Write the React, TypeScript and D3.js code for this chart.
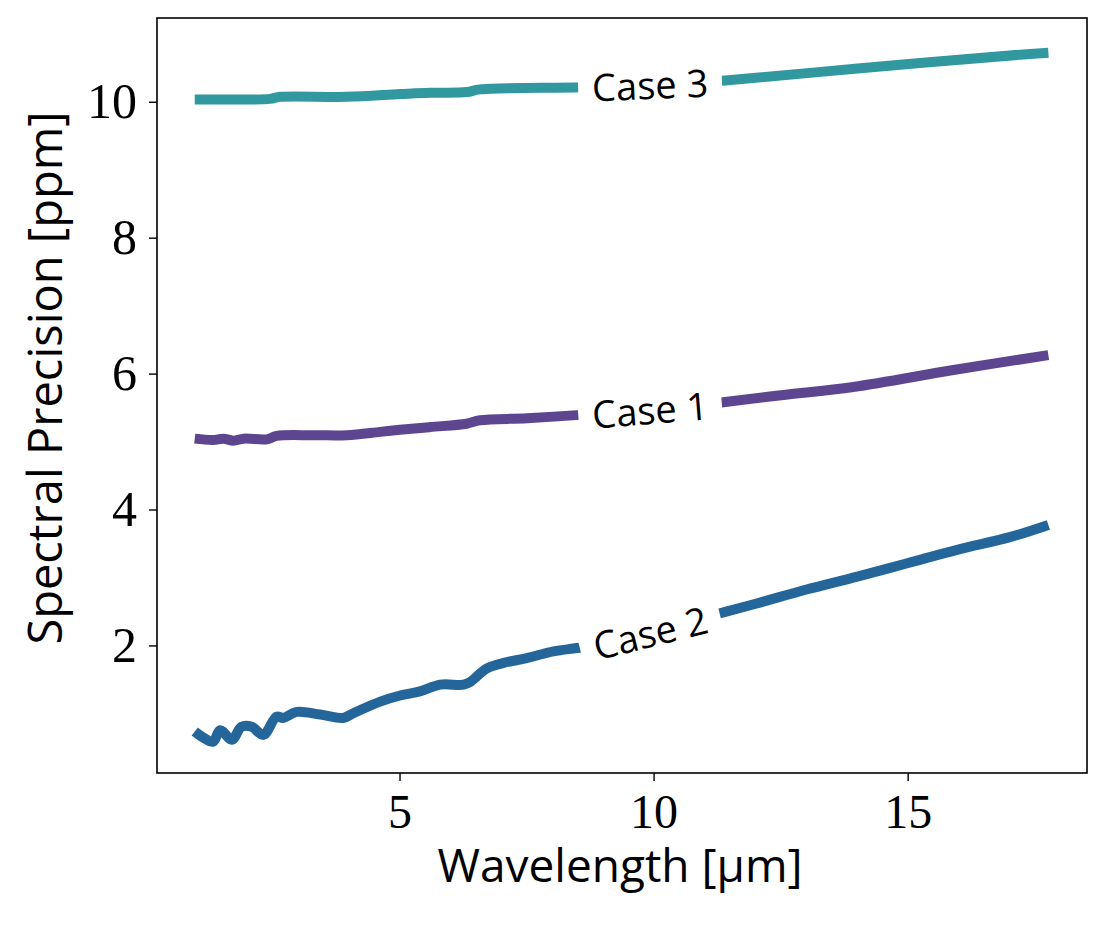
import React from "react";
import * as d3 from "d3";

const wl2 = [0.96, 1.13, 1.32, 1.46, 1.69, 1.88, 2.08, 2.31, 2.57, 2.7, 2.97, 3.43, 3.88, 4.08, 4.61, 5.0, 5.39, 5.79, 6.25, 6.38, 6.71, 7.04, 7.49, 8.02, 8.58, 9, 10, 11, 11.4, 12, 13, 14, 15, 16, 17, 17.76];
const case2 = [0.74, 0.65, 0.59, 0.76, 0.62, 0.81, 0.81, 0.69, 0.96, 0.94, 1.03, 0.99, 0.94, 1.01, 1.18, 1.27, 1.33, 1.43, 1.43, 1.47, 1.67, 1.75, 1.82, 1.92, 1.98, 2.05, 2.22, 2.42, 2.5, 2.62, 2.83, 3.02, 3.22, 3.42, 3.6, 3.78];

const wl1 = [0.96, 1.32, 1.52, 1.72, 1.92, 2.38, 2.57, 3.29, 3.95, 4.61, 5.0, 5.59, 6.31, 6.57, 7.5, 8.54, 9, 10, 11, 11.4, 12.5, 13.92, 15.89, 17.76];
const case1 = [5.05, 5.03, 5.05, 5.02, 5.05, 5.04, 5.09, 5.1, 5.1, 5.15, 5.18, 5.22, 5.27, 5.32, 5.35, 5.4, 5.43, 5.49, 5.55, 5.59, 5.69, 5.81, 6.06, 6.28];

const wl3 = [0.96, 1.65, 2.44, 2.64, 3.95, 5.0, 5.59, 6.31, 6.57, 8.54, 9, 10, 11, 11.4, 14.06, 17.2, 17.76];
const case3 = [10.04, 10.04, 10.05, 10.08, 10.08, 10.12, 10.14, 10.15, 10.19, 10.22, 10.24, 10.27, 10.3, 10.32, 10.5, 10.7, 10.73];

const xTicks = [5, 10, 15];
const yTicks = [2, 4, 6, 8, 10];

const series = [
  { name: "Case 3", wl: wl3, vals: case3, color: "#3198a0", labelX: 9.92 },
  { name: "Case 1", wl: wl1, vals: case1, color: "#5d4590", labelX: 9.92 },
  { name: "Case 2", wl: wl2, vals: case2, color: "#25669a", labelX: 9.92 },
];

export default function App() {
  const L = 157, R = 1087, T = 18, B = 773;
  const x = d3.scaleLinear().domain([0.217, 18.52]).range([L, R]);
  const y = d3.scaleLinear().domain([0.13, 11.24]).range([B, T]);

  const line = d3
    .line<[number, number]>()
    .x((d) => x(d[0]))
    .y((d) => y(d[1]))
    .curve(d3.curveCatmullRom.alpha(0.5));

  const serif = "'Liberation Serif', 'DejaVu Serif', serif";
  const sans = "'Open Sans', 'Noto Sans', sans-serif";

  return (
    <svg
      width={1106}
      height={930}
      style={{ position: "absolute", left: 0, top: 0, background: "#fff" }}
    >
      <rect x={0} y={0} width={1106} height={930} fill="#fff" />
      {series.map((s) => {
        const pts: [number, number][] = s.wl.map((w, i) => [w, s.vals[i]]);
        const interp = (xv: number) => {
          for (let i = 0; i < s.wl.length - 1; i++) {
            if (xv >= s.wl[i] && xv <= s.wl[i + 1]) {
              const t = (xv - s.wl[i]) / (s.wl[i + 1] - s.wl[i]);
              return s.vals[i] + t * (s.vals[i + 1] - s.vals[i]);
            }
          }
          return s.vals[s.vals.length - 1];
        };
        const cx = x(s.labelX);
        const cy = y(interp(s.labelX));
        const dx = x(11) - x(9);
        const dy = y(interp(11)) - y(interp(9));
        const ang = (Math.atan2(dy, dx) * 180) / Math.PI;
        return (
          <g key={s.name}>
            <path
              d={line(pts) || ""}
              fill="none"
              stroke={s.color}
              strokeWidth={10}
              strokeLinejoin="round"
            />
            <g transform={`translate(${cx},${cy}) rotate(${ang})`}>
              <rect x={-72} y={-24} width={144} height={48} fill="#fff" />
              <text
                x={0}
                y={0}
                textAnchor="middle"
                dominantBaseline="central"
                fontFamily={sans}
                fontSize={38}
                fill="#000"
              >
                {s.name}
              </text>
            </g>
          </g>
        );
      })}
      <rect x={L} y={T} width={R - L} height={B - T} fill="none" stroke="#000" strokeWidth={1.6} />
      {xTicks.map((t) => (
        <g key={"x" + t}>
          <line x1={x(t)} x2={x(t)} y1={B} y2={B + 8} stroke="#000" strokeWidth={1.4} />
          <text x={x(t)} y={828} textAnchor="middle" fontFamily={serif} fontSize={48} fill="#000">
            {t}
          </text>
        </g>
      ))}
      {yTicks.map((t) => (
        <g key={"y" + t}>
          <line x1={L - 8} x2={L} y1={y(t)} y2={y(t)} stroke="#000" strokeWidth={1.4} />
          <text
            x={L - 20}
            y={y(t) + 16}
            textAnchor="end"
            fontFamily={serif}
            fontSize={50}
            fill="#000"
          >
            {t}
          </text>
        </g>
      ))}
      <text x={620} y={882} textAnchor="middle" fontFamily={sans} fontSize={46} fill="#000">
        Wavelength [μm]
      </text>
      <text
        transform={`translate(62,378) rotate(-90)`}
        textAnchor="middle"
        fontFamily={sans}
        fontSize={47}
        fill="#000"
      >
        Spectral Precision [ppm]
      </text>
    </svg>
  );
}
